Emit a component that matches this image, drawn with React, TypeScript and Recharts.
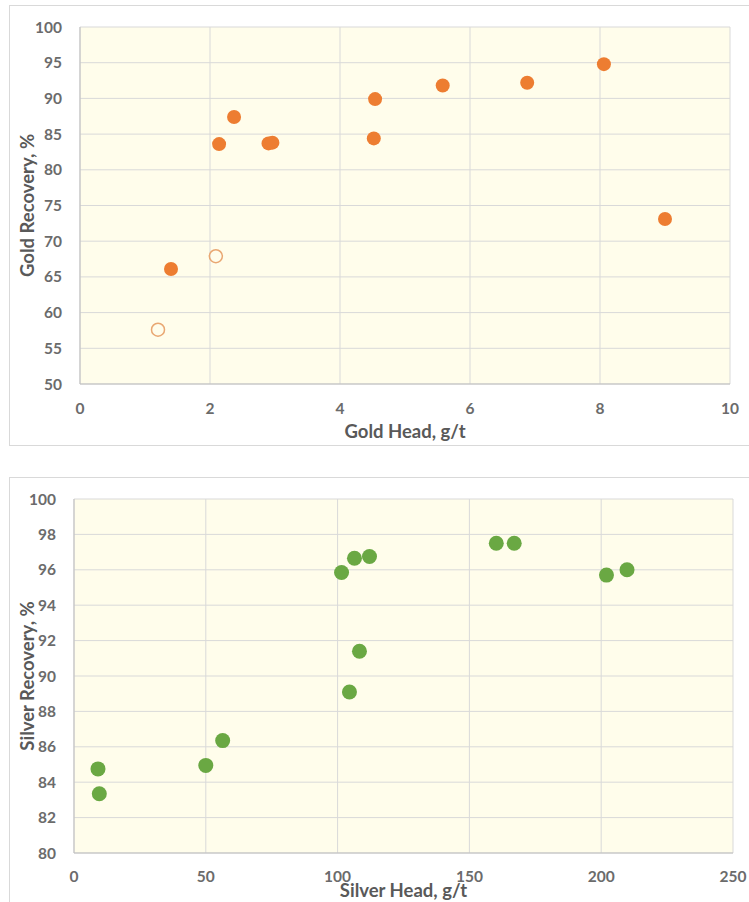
import React from 'react';
import {
  ScatterChart,
  Scatter,
  XAxis,
  YAxis,
  CartesianGrid,
  Label,
} from 'recharts';

// Gold: head grade (g/t) vs recovery (%)
const goldHead = [1.4, 2.14, 2.37, 2.9, 2.96, 4.52, 4.54, 5.58, 6.88, 8.06, 9.0];
const goldRecovery = [66.1, 83.6, 87.4, 83.7, 83.8, 84.4, 89.9, 91.8, 92.2, 94.8, 73.1];
// open markers
const goldHeadOpen = [1.2, 2.09];
const goldRecoveryOpen = [57.6, 67.9];

// Silver: head grade (g/t) vs recovery (%)
const silverHead = [9.1, 9.6, 50, 56.4, 101.5, 106.4, 112.1, 108.3, 104.5, 160.2, 167, 202, 209.8];
const silverRecovery = [84.75, 83.35, 84.95, 86.35, 95.85, 96.65, 96.75, 91.4, 89.1, 97.5, 97.5, 95.7, 96.0];

const goldXTicks = [0, 2, 4, 6, 8, 10];
const goldYTicks = [50, 55, 60, 65, 70, 75, 80, 85, 90, 95, 100];
const silverXTicks = [0, 50, 100, 150, 200, 250];
const silverYTicks = [80, 82, 84, 86, 88, 90, 92, 94, 96, 98, 100];

const toPoints = (xs: number[], ys: number[]) => xs.map((x, i) => ({ x, y: ys[i] }));

const FONT = 'Lato, "Open Sans", sans-serif';
const TICK = { fontSize: 15.5, fill: '#6b6b6b', fontFamily: FONT, fontWeight: 700 };
const GRID = '#d9d9d9';
const AXIS = '#bfbfbf';
const PLOT_BG = '#fffdeb';
const ORANGE = '#ed7d31';
const GREEN = '#6aa843';

const Dot = (color: string, r: number) => (p: any) => (
  <circle cx={p.cx} cy={p.cy} r={r} fill={color} />
);
const Ring = (color: string, r: number) => (p: any) => (
  <circle cx={p.cx} cy={p.cy} r={r} fill="none" stroke={color} strokeWidth={1.5} />
);

const titleStyle = {
  fontSize: 18.5,
  fontWeight: 700,
  fill: '#595959',
  fontFamily: FONT,
};

const YTitle = (text: string, dx: number) => (props: any) => {
  const vb = props.viewBox;
  const x = vb.x + dx;
  const y = vb.y + vb.height / 2;
  return (
    <text
      x={x}
      y={y}
      transform={`rotate(-90 ${x} ${y})`}
      textAnchor="middle"
      dominantBaseline="central"
      style={titleStyle}
    >
      {text}
    </text>
  );
};

const XTitle = (text: string, dy: number) => (props: any) => {
  const vb = props.viewBox;
  const x = vb.x + vb.width / 2;
  const y = vb.y + dy;
  return (
    <text x={x} y={y} textAnchor="middle" dominantBaseline="central" style={titleStyle}>
      {text}
    </text>
  );
};

const frame: React.CSSProperties = {
  position: 'absolute',
  border: '1px solid #d9d9d9',
  background: '#fff',
};

export default function App() {
  return (
    <div style={{ position: 'absolute', left: 0, top: 0, width: 749, height: 902, background: '#fff', overflow: 'hidden' }}>
      <div style={{ ...frame, left: 9, top: 5, width: 760, height: 439 }} />
      <div style={{ ...frame, left: 9, top: 477, width: 760, height: 440 }} />

      <div style={{ position: 'absolute', left: 0, top: 0 }}>
        <ScatterChart width={749} height={450} margin={{ top: 27, right: 19, left: 20, bottom: 26 }}>
          <CartesianGrid stroke={GRID} fill={PLOT_BG} fillOpacity={1} />
          <XAxis
            type="number"
            dataKey="x"
            domain={[0, 10]}
            ticks={goldXTicks}
            tickLine={false}
            axisLine={{ stroke: AXIS }}
            tick={TICK}
            tickMargin={13}
            height={40}
          >
            <Label content={XTitle('Gold Head, g/t', 47)} />
          </XAxis>
          <YAxis
            type="number"
            dataKey="y"
            domain={[50, 100]}
            ticks={goldYTicks}
            tickLine={false}
            axisLine={{ stroke: AXIS }}
            tick={TICK}
            tickMargin={12}
            width={60}
          >
            <Label content={YTitle('Gold Recovery, %', 7)} />
          </YAxis>
          <Scatter data={toPoints(goldHead, goldRecovery)} shape={Dot(ORANGE, 7)} isAnimationActive={false} />
          <Scatter data={toPoints(goldHeadOpen, goldRecoveryOpen)} shape={Ring('#e9a772', 6.5)} isAnimationActive={false} />
        </ScatterChart>
      </div>

      <div style={{ position: 'absolute', left: 0, top: 472 }}>
        <ScatterChart width={749} height={430} margin={{ top: 27, right: 16, left: 14, bottom: 0 }}>
          <CartesianGrid stroke={GRID} fill={PLOT_BG} fillOpacity={1} />
          <XAxis
            type="number"
            dataKey="x"
            domain={[0, 250]}
            ticks={silverXTicks}
            tickLine={false}
            axisLine={{ stroke: AXIS }}
            tick={TICK}
            tickMargin={12}
            height={49}
          >
            <Label content={XTitle('Silver Head, g/t', 37)} />
          </XAxis>
          <YAxis
            type="number"
            dataKey="y"
            domain={[80, 100]}
            ticks={silverYTicks}
            tickLine={false}
            axisLine={{ stroke: AXIS }}
            tick={TICK}
            tickMargin={12}
            width={60}
          >
            <Label content={YTitle('Silver Recovery, %', 13)} />
          </YAxis>
          <Scatter data={toPoints(silverHead, silverRecovery)} shape={Dot(GREEN, 7.5)} isAnimationActive={false} />
        </ScatterChart>
      </div>
    </div>
  );
}
